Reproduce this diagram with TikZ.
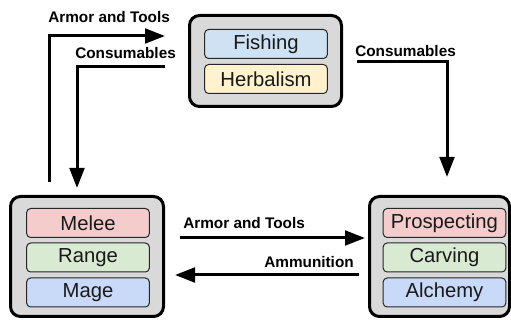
\documentclass[tikz,border=0pt]{standalone}
\usepackage{fontspec}
\setmainfont{Liberation Sans}
\usetikzlibrary{arrows.meta}
\definecolor{outerfill}{HTML}{D9D9D9}
\definecolor{cblue}{HTML}{CFE2F3}
\definecolor{cyellow}{HTML}{FFF2CC}
\definecolor{cred}{HTML}{F4CCCC}
\definecolor{cgreen}{HTML}{D9EAD3}
\definecolor{cmage}{HTML}{C9DAF8}
\begin{document}
\begin{tikzpicture}[x=0.75pt,y=-0.75pt,
  group/.style={draw=black, line width=2.25pt, fill=outerfill, rounded corners=7.5pt, inner sep=0pt, minimum width=114.75pt},
  skill/.style={draw=black!85, line width=0.75pt, rounded corners=3pt, inner sep=0pt, minimum width=92pt, minimum height=21.75pt, text=black!90, font=\fontsize{15.2}{17}\selectfont},
  lbl/.style={inner sep=0pt, font=\bfseries\fontsize{11.5}{13}\selectfont},
  flow/.style={line width=2.25pt, -{Triangle[length=15pt,width=11pt]}}]
\useasboundingbox (0,0) rectangle (511,320);
\clip (0,0) rectangle (511,320);
% groups
\node[group, minimum height=68.25pt, minimum width=114pt] (gather) at (265.5,61) {};
\node[group, minimum height=90pt] (combat) at (87,256.5) {};
\node[group, minimum height=90pt, minimum width=105pt] (craft) at (439.5,256.5) {};
% skills
\node[skill, fill=cblue] (fishing) at (266,44) {Fishing};
\node[skill, fill=cyellow] (herbalism) at (266,79) {Herbalism};
\node[skill, fill=cred] (melee) at (88,223) {Melee};
\node[skill, fill=cgreen] (range) at (88,257.5) {Range};
\node[skill, fill=cmage] (mage) at (88,292.5) {Mage};
\node[skill, fill=cred] (prospecting) at (444.5,223) {Prospecting};
\node[skill, fill=cgreen] (carving) at (444.5,257.5) {Carving};
\node[skill, fill=cmage] (alchemy) at (444.5,292.5) {Alchemy};
% connector ends
\coordinate (atS) at (49,182);
\coordinate (atE) at (165,36);
\coordinate (cS) at (165,67);
\coordinate (cE) at (77,188);
\coordinate (c2S) at (357,62);
\coordinate (c2E) at (447,177);
\coordinate (at2S) at (180,238);
\coordinate (at2E) at (365,238);
\coordinate (amS) at (359,275);
\coordinate (amE) at (175,275);
% connectors
\draw[flow] (atS) |- (atE);
\draw[flow] (cS) -| (cE);
\draw[flow] (c2S) -| (c2E);
\draw[flow] (at2S) -- (at2E);
\draw[flow] (amS) -- (amE);
% labels
\node[lbl, anchor=west] (lat1) at (48,17) {Armor and Tools};
\node[lbl, anchor=west] (lc1) at (75,53) {Consumables};
\node[lbl, anchor=west] (lc2) at (355,51) {Consumables};
\node[lbl, anchor=west] (lat2) at (183,223) {Armor and Tools};
\node[lbl, anchor=east] (lam) at (354,262) {Ammunition};
\end{tikzpicture}
\end{document}
